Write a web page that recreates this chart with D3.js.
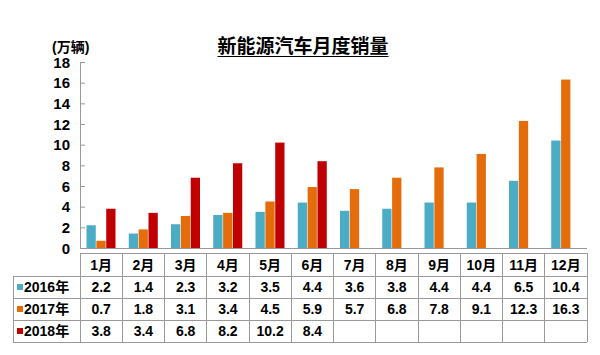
<!DOCTYPE html>
<html><head><meta charset="utf-8">
<script src="https://cdn.jsdelivr.net/npm/d3@7"></script>
<style>body{margin:0;background:#fff;}svg{display:block;}</style>
</head><body>
<svg id="c" width="600" height="355"></svg>
<script>
const months = ["1月","2月","3月","4月","5月","6月","7月","8月","9月","10月","11月","12月"];
const seriesNames = ["2016年","2017年","2018年"];
const s2016 = [2.2,1.4,2.3,3.2,3.5,4.4,3.6,3.8,4.4,4.4,6.5,10.4];
const s2017 = [0.7,1.8,3.1,3.4,4.5,5.9,5.7,6.8,7.8,9.1,12.3,16.3];
const s2018 = [3.8,3.4,6.8,8.2,10.2,8.4,null,null,null,null,null,null];
const yTicks = [0,2,4,6,8,10,12,14,16,18];
const colors = ["#4BACC6","#E46C0A","#C00000"];
const title = "新能源汽车月度销量";
const unit = "(万辆)";

const seriesVals = [s2016, s2017, s2018];
const svg = d3.select("#c");
const font = "'Liberation Sans', Arial, 'Noto Sans CJK SC', sans-serif";

const x = d3.scaleBand().domain(months).range([80, 587]);
const xs = d3.scaleBand().domain(seriesNames).range([6.5, 35.5]).paddingInner(0.06);
const y = d3.scaleLinear().domain([0, 18]).range([248, 62]);

// title
const t = svg.append("text").attr("x", 303).attr("y", 53).attr("text-anchor", "middle")
  .attr("font-family", font).attr("font-weight", "bold").attr("font-size", 19).attr("fill", "#000").text(title);
const bb = t.node().getBBox();
svg.append("line").attr("x1", bb.x).attr("x2", bb.x + bb.width).attr("y1", 56.5).attr("y2", 56.5)
  .attr("stroke", "#000").attr("stroke-width", 1.2);

// unit
svg.append("text").attr("x", 52).attr("y", 52).attr("font-family", font).attr("font-weight", "bold")
  .attr("font-size", 14).text(unit);

// y axis
const yAxis = d3.axisRight(y).tickValues(yTicks).tickSize(5).tickFormat("");
const ga = svg.append("g").attr("transform", "translate(80,0)").call(yAxis);
ga.select(".domain").attr("stroke", "#999");
ga.selectAll(".tick line").attr("stroke", "#999");
svg.append("g").selectAll("text").data(yTicks).join("text")
  .attr("x", 70).attr("y", d => y(d) + 5.5).attr("text-anchor", "end")
  .attr("font-family", font).attr("font-weight", "bold").attr("font-size", 15).text(d => d);

// bars
seriesNames.forEach((name, si) => {
  svg.append("g").selectAll("rect")
    .data(months.map((m, i) => ({m, v: seriesVals[si][i]})).filter(d => d.v != null))
    .join("rect")
    .attr("x", d => x(d.m) + xs(name))
    .attr("width", xs.bandwidth())
    .attr("y", d => y(d.v))
    .attr("height", d => y(0) - y(d.v))
    .attr("fill", colors[si]);
});

// x baseline
svg.append("line").attr("x1", 80).attr("x2", 587).attr("y1", 248.5).attr("y2", 248.5).attr("stroke", "#999");

// table
const rowTops = [253, 276, 298, 320, 342];
const tbl = svg.append("g").attr("stroke", "#999").attr("stroke-width", 1).attr("shape-rendering", "crispEdges");
tbl.append("line").attr("x1", 80).attr("x2", 587).attr("y1", rowTops[0]).attr("y2", rowTops[0]);
for (let r = 1; r < rowTops.length; r++) {
  tbl.append("line").attr("x1", 13).attr("x2", 587).attr("y1", rowTops[r]).attr("y2", rowTops[r]);
}
const colEdges = months.map(m => x(m)).concat([587]);
colEdges.forEach(cx => tbl.append("line").attr("x1", cx).attr("x2", cx).attr("y1", rowTops[0]).attr("y2", rowTops[4]));
tbl.append("line").attr("x1", 13).attr("x2", 13).attr("y1", rowTops[1]).attr("y2", rowTops[4]);

const tt = svg.append("g").attr("font-family", font).attr("font-weight", "bold").attr("font-size", 14).attr("fill", "#000");
tt.selectAll("text.h").data(months).join("text").attr("class", "h")
  .attr("x", d => x(d) + x.bandwidth() / 2).attr("y", (rowTops[0] + rowTops[1]) / 2 + 5)
  .attr("text-anchor", "middle").text(d => d);
seriesNames.forEach((name, si) => {
  const cy = (rowTops[si + 1] + rowTops[si + 2]) / 2;
  svg.append("rect").attr("x", 17).attr("y", cy - 3).attr("width", 6).attr("height", 6).attr("fill", colors[si]);
  tt.append("text").attr("x", 24).attr("y", cy + 5).text(name);
  tt.append("g").selectAll("text").data(months.map((m, i) => ({m, v: seriesVals[si][i]})).filter(d => d.v != null))
    .join("text").attr("x", d => x(d.m) + x.bandwidth() / 2).attr("y", cy + 5)
    .attr("text-anchor", "middle").text(d => d.v.toFixed(1));
});
</script>
</body></html>
